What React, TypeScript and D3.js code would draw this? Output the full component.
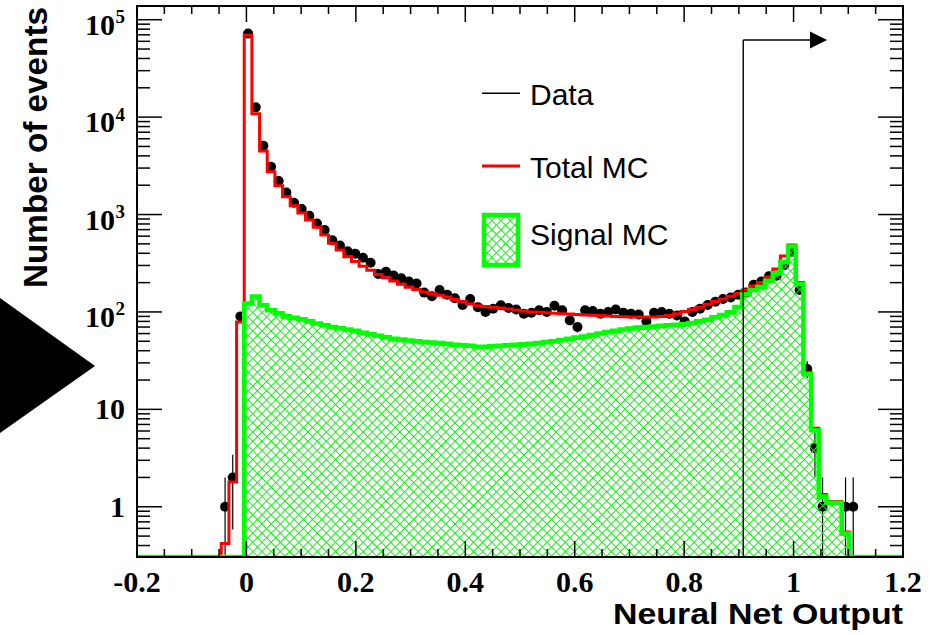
import { area, curveStepAfter, line, range, scaleLinear, scaleLog } from "d3";

const WIDTH = 930;
const HEIGHT = 635;
const FRAME = { left: 137, right: 903, top: 6, bottom: 557 };

const X_MIN = -0.2;
const X_MAX = 1.2;
const N_BINS = 100;
const Y_MIN = 0.305;
const Y_MAX = 1.383e5;

// bin contents, 100 bins of 0.014 from -0.2 to 1.2
const totalMC = [
  0, 0, 0, 0, 0, 0, 0, 0, 0, 0,
  0, 0.42, 1.8, 79, 69700, 10800, 4490, 2750, 1980, 1520,
  1230, 1040, 880, 740, 617, 506, 432, 369, 330, 294,
  268, 243, 225, 208, 193, 179, 170, 160, 154, 148,
  142, 134, 127, 121, 116, 114, 112, 110, 107, 104,
  102, 100, 99, 98, 97, 96, 95, 94, 93, 92.5,
  92, 91, 90, 89.5, 89, 89, 89, 89, 90, 92,
  96, 101, 106, 112, 120, 128, 136, 145, 155, 168,
  185, 200, 229, 276, 375, 486, 200, 24, 6.4, 1.34,
  1.13, 1.13, 0.55, 0, 0, 0, 0, 0, 0, 0,
];

const signalMC = [
  0, 0, 0, 0, 0, 0, 0, 0, 0, 0,
  0, 0, 0, 0, 122, 144, 117, 104, 97, 90,
  87, 84, 80, 76, 73, 70, 68, 66, 64, 61,
  59, 57, 55, 53, 52, 51, 50, 49, 48.5, 48,
  47, 46, 45.5, 45, 44, 44, 44.5, 45, 45.5, 46,
  46.5, 47, 48, 49, 50, 51.5, 53, 54.5, 56, 58,
  60, 62, 64, 66, 67.5, 69, 70, 71, 72, 73,
  74, 75, 77, 80, 83, 88, 93, 99, 112, 152,
  168, 181, 209, 249, 327, 470, 193, 23, 6.1, 1.27,
  1.1, 1.1, 0.53, 0, 0, 0, 0, 0, 0, 0,
];

const dataCounts = [
  0, 0, 0, 0, 0, 0, 0, 0, 0, 0,
  0, 1, 2, 90, 72000, 12600, 5080, 3100, 2210, 1680,
  1320, 1140, 970, 810, 695, 545, 480, 420, 395, 360,
  320, 245, 258, 236, 222, 205, 196, 158, 145, 168,
  150, 138, 118, 136, 112, 100, 108, 117, 110, 106,
  96, 98, 104, 100, 116, 104, 82, 70, 104, 102,
  96, 100, 106, 98, 96, 94, 80, 98, 100, 96,
  92, 80, 100, 108, 118, 127, 136, 141, 150, 158,
  190, 205, 233, 235, 302, 415, 168, 26, 4, 1,
  0, 0, 1, 1, 0, 0, 0, 0, 0, 0,
];

const xTickLabels = ["-0.2", "0", "0.2", "0.4", "0.6", "0.8", "1", "1.2"];
const yDecades = [0, 1, 2, 3, 4, 5];
const cutValue = 0.908;
const legendLabels = ["Data", "Total MC", "Signal MC"];

const SERIF = "'Liberation Serif', 'Times New Roman', serif";
const SANS = "'Liberation Sans', Arial, Helvetica, sans-serif";

function App() {
  const xScale = scaleLinear().domain([X_MIN, X_MAX]).range([FRAME.left, FRAME.right]);
  const yScale = scaleLog().domain([Y_MIN, Y_MAX]).range([FRAME.bottom, FRAME.top]);

  const binWidth = (X_MAX - X_MIN) / N_BINS;
  const edges = range(N_BINS + 1).map((i) => X_MIN + i * binWidth);
  const yv = (v: number) => (v <= Y_MIN ? FRAME.bottom : yScale(v));

  const stepPoints = (vals: number[]) =>
    edges.map((e, i) => [e, vals[Math.min(i, vals.length - 1)]] as [number, number]);

  const stepLine = line<[number, number]>()
    .x((d) => xScale(d[0]))
    .y((d) => yv(d[1]))
    .curve(curveStepAfter);

  const stepArea = area<[number, number]>()
    .x((d) => xScale(d[0]))
    .y0(FRAME.bottom)
    .y1((d) => yv(d[1]))
    .curve(curveStepAfter);

  const xMajor = xTickLabels.map(Number);
  const xMinor = range(0, 29).map((i) => X_MIN + i * 0.05);

  const yMinor: number[] = [];
  for (let d = -1; d <= 5; d++) {
    for (let k = 2; k <= 9; k++) {
      const v = k * 10 ** d;
      if (v > Y_MIN && v < Y_MAX) yMinor.push(v);
    }
  }

  const dataPoints = dataCounts
    .map((n, i) => ({ n, c: X_MIN + (i + 0.5) * binWidth }))
    .filter((d) => d.n > 0);

  const cutX = xScale(cutValue);
  const arrowY = 40;

  return (
    <svg
      width={WIDTH}
      height={HEIGHT}
      style={{ position: "absolute", left: 0, top: 0, display: "block" }}
    >
      <defs>
        <clipPath id="frameClip">
          <rect
            x={FRAME.left}
            y={FRAME.top}
            width={FRAME.right - FRAME.left}
            height={FRAME.bottom - FRAME.top}
          />
        </clipPath>
        <pattern
          id="hatch"
          patternUnits="userSpaceOnUse"
          width={6.5}
          height={6.5}
          patternTransform="rotate(45)"
        >
          <path d="M3.25,0V6.5M0,3.25H6.5" stroke="#11ee11" strokeWidth={1} />
        </pattern>
      </defs>
      <rect width={WIDTH} height={HEIGHT} fill="#fff" />

      <g clipPath="url(#frameClip)">
        {/* data: error bars + markers */}
        {dataPoints.map((d, i) => {
          const err = Math.sqrt(d.n);
          const x = xScale(d.c);
          return (
            <g key={i}>
              <line
                x1={x}
                x2={x}
                y1={yv(d.n + err)}
                y2={yv(d.n - err)}
                stroke="#000"
                strokeWidth={1.2}
              />
              <circle cx={x} cy={yScale(d.n)} r={5} fill="#000" />
            </g>
          );
        })}
        <path
          d={stepLine(stepPoints(totalMC)) || ""}
          fill="none"
          stroke="#ff0000"
          strokeWidth={3}
        />
        <path d={stepArea(stepPoints(signalMC)) || ""} fill="url(#hatch)" stroke="none" />
        <path
          d={stepLine(stepPoints(signalMC)) || ""}
          fill="none"
          stroke="#00ff00"
          strokeWidth={4.6}
        />
      </g>

      {/* cut line with arrow */}
      <line x1={cutX} x2={cutX} y1={arrowY} y2={FRAME.bottom} stroke="#000" strokeWidth={1.4} />
      <line x1={cutX} x2={812} y1={arrowY} y2={arrowY} stroke="#000" strokeWidth={1.4} />
      <polygon
        points={`810,${arrowY - 8.5} 827,${arrowY} 810,${arrowY + 8.5}`}
        fill="#000"
      />

      {/* frame */}
      <rect
        x={FRAME.left}
        y={FRAME.top}
        width={FRAME.right - FRAME.left}
        height={FRAME.bottom - FRAME.top}
        fill="none"
        stroke="#000"
        strokeWidth={2}
      />

      {/* ticks on all four sides */}
      <g stroke="#000" strokeWidth={1.5}>
        {xMinor.map((v, i) => {
          const major = xMajor.some((m) => Math.abs(m - v) < 1e-6);
          const len = major ? 16 : 8;
          const x = xScale(v);
          return (
            <g key={i}>
              <line x1={x} x2={x} y1={FRAME.bottom} y2={FRAME.bottom - len} />
              <line x1={x} x2={x} y1={FRAME.top} y2={FRAME.top + len} />
            </g>
          );
        })}
        {yDecades.map((d) => {
          const y = yScale(10 ** d);
          return (
            <g key={d}>
              <line x1={FRAME.left} x2={FRAME.left + 25} y1={y} y2={y} />
              <line x1={FRAME.right} x2={FRAME.right - 25} y1={y} y2={y} />
            </g>
          );
        })}
        {yMinor.map((v, i) => {
          const y = yScale(v);
          return (
            <g key={i}>
              <line x1={FRAME.left} x2={FRAME.left + 13} y1={y} y2={y} />
              <line x1={FRAME.right} x2={FRAME.right - 13} y1={y} y2={y} />
            </g>
          );
        })}
      </g>

      {/* x tick labels */}
      {xTickLabels.map((t) => (
        <text
          key={t}
          x={xScale(Number(t))}
          y={592}
          textAnchor="middle"
          fontFamily={SERIF}
          fontWeight="bold"
          fontSize={30}
        >
          {t}
        </text>
      ))}

      {/* y tick labels */}
      {yDecades.map((d) => {
        const y = yScale(10 ** d);
        if (d < 2) {
          return (
            <text
              key={d}
              x={125}
              y={y + 10}
              textAnchor="end"
              fontFamily={SERIF}
              fontWeight="bold"
              fontSize={30}
            >
              {d === 0 ? "1" : "10"}
            </text>
          );
        }
        return (
          <g key={d} fontFamily={SERIF} fontWeight="bold">
            <text x={115} y={y + 15} textAnchor="end" fontSize={30}>
              10
            </text>
            <text x={115.5} y={y + 3.5} fontSize={19}>
              {d}
            </text>
          </g>
        );
      })}

      {/* axis titles */}
      <text
        x={613}
        y={624}
        fontFamily={SANS}
        fontWeight="bold"
        fontSize={29}
        textLength={290}
        lengthAdjust="spacingAndGlyphs"
      >
        Neural Net Output
      </text>
      <text
        transform="translate(46.5,288) rotate(-90)"
        fontFamily={SANS}
        fontWeight="bold"
        fontSize={33}
        textLength={281}
        lengthAdjust="spacingAndGlyphs"
      >
        Number of events
      </text>

      {/* legend */}
      <g fontFamily={SANS} fontSize={30}>
        <line x1={482} x2={520} y1={93.3} y2={93.3} stroke="#000" strokeWidth={1.5} />
        <text x={530} y={105}>
          {legendLabels[0]}
        </text>
        <line x1={482} x2={520} y1={166} y2={166} stroke="#ff0000" strokeWidth={3} />
        <text x={530} y={178.3}>
          {legendLabels[1]}
        </text>
        <rect
          x={484}
          y={215}
          width={34}
          height={50}
          fill="url(#hatch)"
          stroke="#00ff00"
          strokeWidth={4.5}
        />
        <text x={530} y={245}>
          {legendLabels[2]}
        </text>
      </g>

      {/* overlay play marker on the left */}
      <polygon points="0,298 95,366 0,433" fill="#000" />
    </svg>
  );
}

export default App;
